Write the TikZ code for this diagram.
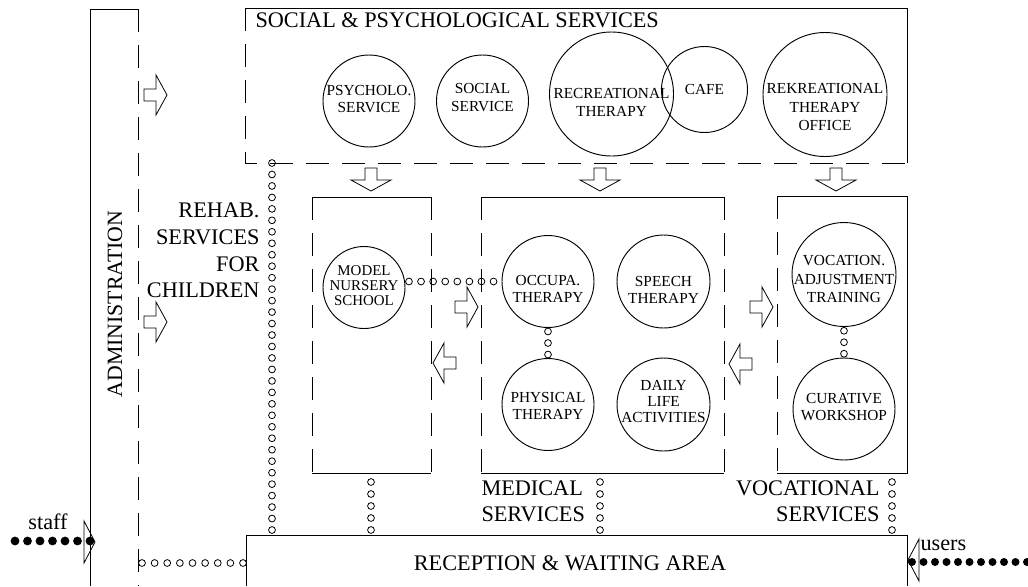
\documentclass[tikz,border=0pt]{standalone}
\usepackage{fontspec}
\setmainfont{Liberation Serif}
\usetikzlibrary{calc}

% a row of small rings (or beads) spread evenly between two named points
\newcommand\ringrow[5]{%
  \foreach \k in {0,...,#5}
    \draw[#1] ($(#2)!{\k/#5}!(#3)$) circle (#4);}

\begin{document}
\begin{tikzpicture}[x=0.75pt,y=-0.75pt,
  line width=0.75pt,
  dashside/.style={dash pattern=on 17.25pt off 9.75pt},
  room/.style={circle, draw, line width=0.7pt, inner sep=0pt, minimum size=#1},
  rtxt/.style={font=\fontsize{11.5}{13.2}\selectfont, align=center, inner sep=0pt},
  big/.style={font=\fontsize{16.7}{20}\selectfont, inner sep=0pt},
  ring/.style={line width=0.6pt},
  bead/.style={fill=black, draw=none},
  barrow/.pic={\draw[line width=0.6pt] (0,0) -- (-11,20) -- (-11,6) -- (-23,6)
      -- (-23,-6) -- (-11,-6) -- (-11,-20) -- cycle;},
  ahead/.pic={\draw[line width=0.6pt] (0,0) -- (-11,21) -- (-11,-21) -- cycle;}
]
\useasboundingbox (0,0) rectangle (1028,586);

% ---- administration wing
\draw (138,9) -- (90,9) -- (90,586);
\draw[dashside] (138,9) -- (138,586);
\node[big, font=\fontsize{16.35}{20}\selectfont, rotate=90] (admin) at (115,304) {ADMINISTRATION};

% ---- social & psychological services
\draw (245,8) -- (907,8) -- (907,163);
\draw[dashside] (245,8) -- (245,163) -- (907,163);
\node[big, anchor=base west] (sps) at (255,27) {SOCIAL \& PSYCHOLOGICAL SERVICES};

\node[room=69pt]    (psy)  at (369,101)   {};
\node[rtxt]         (psyt) at (369,99)    {PSYCHOLO.\\SERVICE};
\node[room=69pt]    (soc)  at (482.5,101) {};
\node[rtxt]         (soct) at (482.5,97.5){SOCIAL\\SERVICE};
\node[room=93pt]    (rec)  at (611.5,94)  {};
\node[rtxt]         (rect) at (611.5,102.5){RECREATIONAL\\THERAPY};
\node[room=64.5pt]  (cafe) at (704.5,89.5){};
\node[rtxt]         (cafet) at (704.5,89) {CAFE};
\node[room=93pt]    (rek)  at (825,94.5)  {};
\node[rtxt, font=\fontsize{11.5}{14.2}\selectfont] (rekt) at (825,107)
  {REKREATIONAL\\THERAPY\\OFFICE};

% ---- rehab. services for children
\draw (312,197) -- (431,197);
\draw (312,473) -- (431,473);
\draw[dashside] (312,197) -- (312,473);
\draw[dashside] (431,197) -- (431,473);
\node[big, align=right, anchor=north east] (rehab) at (260,202.5)
  {REHAB.\\SERVICES\\FOR\\CHILDREN};
\node[room=61.5pt]  (nurs)  at (364,287.5) {};
\node[rtxt, font=\fontsize{11.2}{11.25}\selectfont] (nurst) at (364,286)
  {MODEL\\NURSERY\\SCHOOL};

% ---- medical services
\draw (481,197) -- (724,197);
\draw (481,473) -- (724,473);
\draw[dashside] (481,197) -- (481,473);
\draw[dashside] (724,197) -- (724,473);
\node[big, align=left, anchor=north west] (med) at (481,480) {MEDICAL\\SERVICES};
\node[room=69pt]    (occ)   at (548,281.5)   {};
\node[rtxt, font=\fontsize{11.5}{12.8}\selectfont] (occt) at (548,288.5) {OCCUPA.\\THERAPY};
\node[room=69.75pt] (spe)   at (663.5,281.5) {};
\node[rtxt, font=\fontsize{11.5}{12.8}\selectfont] (spet) at (663.5,290) {SPEECH\\THERAPY};
\node[room=69pt]    (phy)   at (548,404.5)   {};
\node[rtxt, font=\fontsize{11.5}{12.8}\selectfont] (phyt) at (548,406) {PHYSICAL\\THERAPY};
\node[room=69.75pt] (dly)   at (663.5,404.5) {};
\node[rtxt, font=\fontsize{11.5}{12}\selectfont] (dlyt) at (663.5,401.5) {DAILY\\LIFE\\ACTIVITIES};

% ---- vocational services
\draw (777,196) -- (907,196) -- (907,473) -- (777,473);
\draw[dashside] (777,196) -- (777,473);
\node[big, align=right, anchor=north east] (vocl) at (880,480) {VOCATIONAL\\SERVICES};
\node[room=78pt]    (voc)  at (844,274.5) {};
\node[rtxt, font=\fontsize{11.5}{13.9}\selectfont] (voct) at (844,279)
  {VOCATION.\\ADJUSTMENT\\TRAINING};
\node[room=76.5pt]  (cur)  at (844,409)   {};
\node[rtxt] (curt) at (844,407) {CURATIVE\\WORKSHOP};

% ---- reception & waiting area
\draw (246,586) -- (246,535) -- (907,535) -- (907,586);
\node[big] (recep) at (570,563) {RECEPTION \& WAITING AREA};

% ---- block arrows between the departments
\pic at (167,95)  {barrow};
\pic at (167,322) {barrow};
\pic[rotate=-90] at (371,191) {barrow};
\pic[rotate=-90] at (600,191) {barrow};
\pic[rotate=-90] at (836,191) {barrow};
\pic at (478,307) {barrow};
\pic[rotate=180] at (433,363) {barrow};
\pic at (773,307) {barrow};
\pic[rotate=180] at (729,364) {barrow};

% ---- entrances
\pic at (95,542) {ahead};
\pic[rotate=180] at (908,560) {ahead};
\node[big, anchor=base] (staff) at (48,529) {staff};
\node[big, anchor=base west] (users) at (920,550) {users};

% ---- ring paths
\coordinate (colA) at (272,163);
\coordinate (colB) at (272,530);
\ringrow{ring}{colA}{colB}{3.4}{32}

\coordinate (rowA) at ($(nurs.east |- occ.west)+(3.5,0)$);
\coordinate (rowB) at ($(occ.west)+(-8,0)$);
\ringrow{ring}{rowA}{rowB}{3.4}{7}

\coordinate (opA) at ($(occ.south)+(0,3.5)$);
\coordinate (opB) at ($(phy.north)+(0,-3.5)$);
\ringrow{ring}{opA}{opB}{3.4}{2}

\coordinate (vcA) at ($(voc.south)+(0,3.8)$);
\coordinate (vcB) at ($(cur.north)+(0,-3.8)$);
\ringrow{ring}{vcA}{vcB}{3.4}{2}

\coordinate (nrA) at (371,482);  \coordinate (nrB) at (371,530);
\ringrow{ring}{nrA}{nrB}{3.4}{4}
\coordinate (mrA) at (600,482);  \coordinate (mrB) at (600,530);
\ringrow{ring}{mrA}{mrB}{3.4}{4}
\coordinate (vrA) at (892,482);  \coordinate (vrB) at (892,530);
\ringrow{ring}{vrA}{vrB}{3.4}{4}

\coordinate (arA) at (142,563);  \coordinate (arB) at (243,563);
\ringrow{ring}{arA}{arB}{3.4}{8}

% ---- bead lines of the staff and users routes
\coordinate (stA) at (15,541);   \coordinate (stB) at (90,541);
\ringrow{bead}{stA}{stB}{4.4}{6}
\coordinate (usA) at (912,562);  \coordinate (usB) at (1027,562);
\ringrow{bead}{usA}{usB}{4}{10}
\end{tikzpicture}
\end{document}
